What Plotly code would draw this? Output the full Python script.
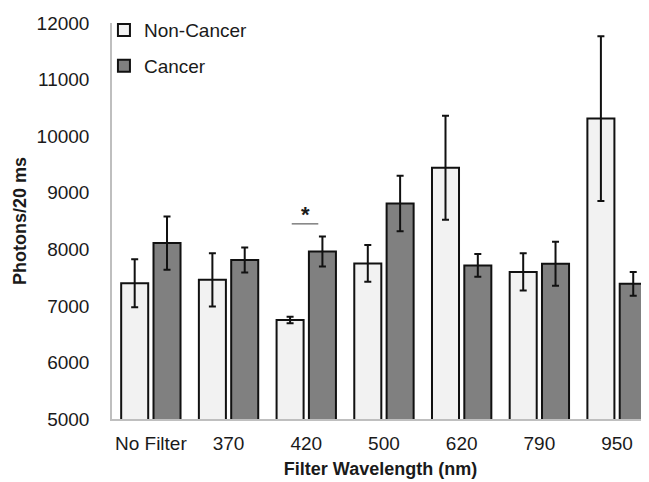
import plotly.graph_objects as go

categories = ["No Filter", "370", "420", "500", "620", "790", "950"]
non_cancer = [7400, 7460, 6750, 7750, 9440, 7600, 10310]
non_cancer_err = [425, 470, 58, 325, 920, 330, 1455]
cancer = [8110, 7810, 7960, 8810, 7715, 7745, 7390]
cancer_err = [470, 220, 265, 490, 200, 390, 210]
y_ticks = [5000, 6000, 7000, 8000, 9000, 10000, 11000, 12000]
sig_category = "420"
sig_level = 8450

FONT = "Liberation Sans, Arial, sans-serif"
TXT = "#1a1a1a"

fig = go.Figure()
fig.add_trace(go.Bar(
    name="Non-Cancer", x=categories, y=non_cancer,
    marker=dict(color="#f2f2f2", line=dict(color="#111111", width=2)),
    error_y=dict(type="data", array=non_cancer_err, color="#111111", thickness=2, width=3.5),
    legendgroup="a",
))
fig.add_trace(go.Bar(
    name="Cancer", x=categories, y=cancer,
    marker=dict(color="#808080", line=dict(color="#111111", width=2)),
    error_y=dict(type="data", array=cancer_err, color="#111111", thickness=2, width=3.5),
    legendgroup="b",
))

idx = categories.index(sig_category)
fig.add_shape(type="line", xref="x", yref="y", x0=idx - 0.187, x1=idx + 0.155,
              y0=sig_level, y1=sig_level, line=dict(color="#7f7f7f", width=1.5))
fig.add_annotation(x=idx - 0.015, y=sig_level, xref="x", yref="y", text="<b>*</b>",
                   showarrow=False, yanchor="bottom", yshift=-5,
                   font=dict(family=FONT, size=22, color=TXT))

fig.update_layout(
    width=641, height=474,
    margin=dict(l=104, r=0, t=15, b=63),
    paper_bgcolor="white", plot_bgcolor="white",
    barmode="group", bargap=0.168, bargroupgap=0.164,
    font=dict(family=FONT, size=19, color=TXT),
    showlegend=True,
    legend=dict(x=-0.015, y=1.03, xanchor="left", yanchor="top", xref="paper", yref="paper",
                bgcolor="rgba(0,0,0,0)", font=dict(family=FONT, size=19, color=TXT),
                tracegroupgap=8, traceorder="grouped"),
)
fig.update_xaxes(
    type="category", range=[-0.5, 6.411],
    showline=True, linecolor="#bfbfbf", linewidth=1.5,
    showgrid=False, ticks="", ticklabelstandoff=6, zeroline=False,
    tickfont=dict(family=FONT, size=19, color=TXT),
    title=dict(text="<b>Filter Wavelength (nm)</b>", standoff=10,
               font=dict(family=FONT, size=18, color=TXT)),
)
fig.update_yaxes(
    range=[5000, 12000], tickvals=y_ticks, ticktext=[str(v) for v in y_ticks],
    showline=True, linecolor="#bfbfbf", linewidth=1.5,
    showgrid=False, ticks="", ticklabelstandoff=17, zeroline=False,
    tickfont=dict(family=FONT, size=19, color=TXT),
    title=dict(text="<b>Photons/20 ms</b>", standoff=5,
               font=dict(family=FONT, size=18, color=TXT)),
)

fig.write_html("out.html")
